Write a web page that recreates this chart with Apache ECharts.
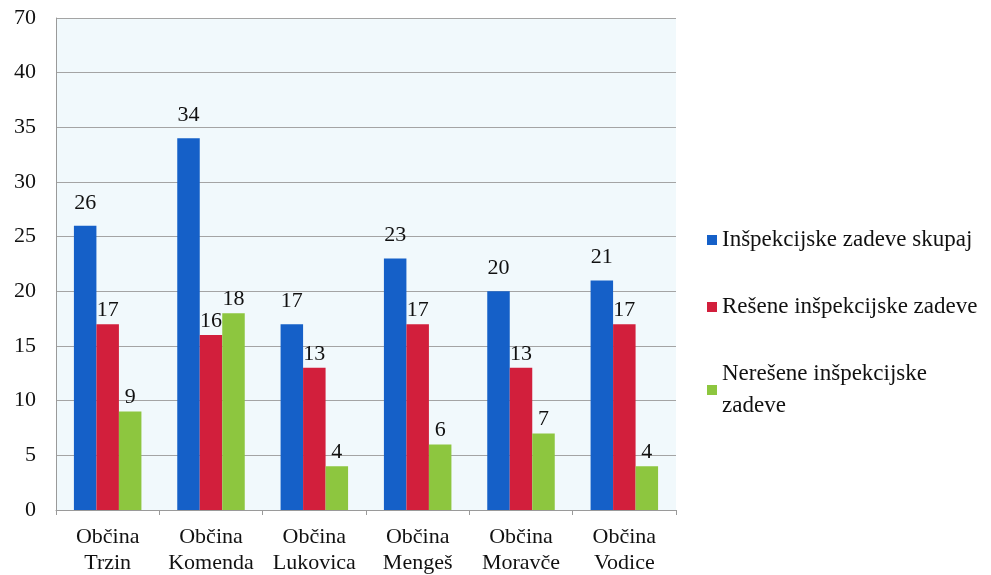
<!DOCTYPE html>
<html>
<head>
<meta charset="utf-8">
<script src="https://cdn.jsdelivr.net/npm/echarts@6/dist/echarts.min.js"></script>
<style>
html,body{margin:0;padding:0;background:#fff;}
#chart{width:991px;height:575px;}
</style>
</head>
<body>
<div id="chart"></div>
<script>
// podatki
var categories = ['Občina\nTrzin', 'Občina\nKomenda', 'Občina\nLukovica', 'Občina\nMengeš', 'Občina\nMoravče', 'Občina\nVodice'];
var seriesNames = ['Inšpekcijske zadeve skupaj', 'Rešene inšpekcijske zadeve', 'Nerešene inšpekcijske zadeve'];
var skupaj = [26, 34, 17, 23, 20, 21];
var resene = [17, 16, 13, 17, 13, 17];
var neresene = [9, 18, 4, 6, 7, 4];
// zgornja črta osi je označena z 70 (prekinjena os)
var yTicks = {0:'0', 5:'5', 10:'10', 15:'15', 20:'20', 25:'25', 30:'30', 35:'35', 40:'40', 45:'70'};

var colors = ['#1560c8', '#d21f3c', '#8dc63f'];
var serif = '"Liberation Serif", "DejaVu Serif", serif';

function makeBar(name, data, dist) {
    return {
        name: name,
        type: 'bar',
        data: data,
        barWidth: 22.5,
        barGap: '0%',
        label: {
            show: true,
            position: 'top',
            distance: dist,
            color: '#111',
            fontFamily: serif,
            fontSize: 22
        }
    };
}

var option = {
    backgroundColor: '#fff',
    animation: false,
    color: colors,
    grid: {
        left: 56,
        right: 315,
        top: 18,
        bottom: 65,
        outerBoundsMode: 'none',
        show: true,
        backgroundColor: '#f1f9fc',
        borderWidth: 0
    },
    legend: {
        orient: 'vertical',
        left: 702,
        top: 219,
        icon: 'rect',
        itemWidth: 10,
        itemHeight: 10,
        itemGap: 35,
        data: seriesNames,
        formatter: function (name) {
            if (name.length > 27) {
                var i = name.lastIndexOf(' ');
                return name.slice(0, i) + '\n' + name.slice(i + 1);
            }
            return name;
        },
        textStyle: {
            fontFamily: serif,
            fontSize: 23,
            color: '#111',
            lineHeight: 32
        }
    },
    xAxis: {
        type: 'category',
        data: categories,
        axisLine: {lineStyle: {color: '#9a9a9a'}},
        axisTick: {show: true, interval: 0, length: 5, lineStyle: {color: '#9a9a9a'}},
        axisLabel: {
            interval: 0,
            margin: 14,
            fontFamily: serif,
            fontSize: 22,
            color: '#111',
            lineHeight: 26
        }
    },
    yAxis: {
        type: 'value',
        min: 0,
        max: 45,
        interval: 5,
        axisLine: {show: true, lineStyle: {color: '#9a9a9a'}},
        axisTick: {show: false},
        splitLine: {lineStyle: {color: '#a4a4a4'}},
        axisLabel: {
            margin: 20,
            fontFamily: serif,
            fontSize: 22,
            color: '#111',
            formatter: function (v) { return yTicks[v] !== undefined ? yTicks[v] : ''; }
        }
    },
    series: [
        makeBar(seriesNames[0], skupaj, 12),
        makeBar(seriesNames[1], resene, 3),
        makeBar(seriesNames[2], neresene, 3)
    ]
};

var myChart = echarts.init(document.getElementById('chart'));
myChart.setOption(option);
</script>
</body>
</html>
